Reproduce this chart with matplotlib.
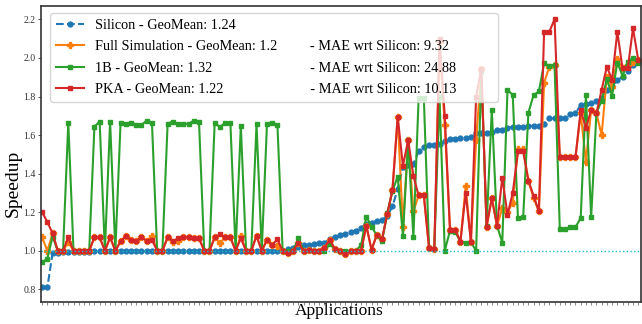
import numpy as np
import matplotlib.pyplot as plt

# Speedup per application (sorted by silicon speedup)
silicon = [0.81, 0.81, 0.99, 0.99, 0.995, 0.995, 0.995, 0.995, 0.995, 0.995,
           1.0, 1.0, 1.0, 1.0, 1.0, 1.0, 1.0, 1.0, 1.0, 1.0,
           1.0, 1.0, 1.0, 1.0, 1.0, 1.0, 1.0, 1.0, 1.0, 1.0,
           1.0, 1.0, 1.0, 1.0, 1.0, 1.0, 1.0, 1.0, 1.0, 1.0,
           1.0, 1.0, 1.0, 1.0, 1.0, 1.0, 1.0, 1.009, 1.014, 1.022,
           1.028, 1.031, 1.035, 1.04, 1.043, 1.06, 1.074, 1.083, 1.088, 1.10,
           1.105, 1.12, 1.14, 1.145, 1.155, 1.16, 1.18, 1.23, 1.32, 1.437,
           1.445, 1.45, 1.515, 1.54, 1.55, 1.55, 1.553, 1.567, 1.58, 1.58,
           1.584, 1.584, 1.59, 1.61, 1.61, 1.61, 1.618, 1.627, 1.627, 1.636,
           1.644, 1.644, 1.644, 1.648, 1.648, 1.648, 1.66, 1.687, 1.687, 1.687,
           1.687, 1.71, 1.713, 1.756, 1.76, 1.765, 1.777, 1.79, 1.834, 1.855,
           1.883, 1.903, 1.93, 1.964, 1.98]

full_sim = [1.07, 1.0, 1.09, 1.0, 1.0, 1.045, 1.0, 1.0, 1.0, 1.0,
            1.07, 1.07, 1.0, 1.07, 1.0, 1.05, 1.075, 1.057, 1.05, 1.07,
            1.052, 1.078, 1.0, 1.0, 1.07, 1.048, 1.05, 1.07, 1.07, 1.069,
            1.065, 1.0, 1.0, 1.07, 1.04, 1.07, 1.07, 1.0, 1.078, 1.0,
            1.0, 1.078, 1.0, 1.057, 1.031, 1.026, 1.0, 0.99, 1.0, 1.043,
            1.0, 1.005, 1.0, 1.0, 1.017, 1.057, 1.009, 1.0, 0.984, 1.0,
            1.0, 1.0, 1.13, 1.005, 1.083, 1.06, 1.19, 1.316, 1.696, 1.126,
            1.575, 1.204, 1.287, 1.287, 1.014, 1.009, 2.08, 1.65, 1.109, 1.109,
            1.048, 1.337, 1.048, 1.575, 1.94, 1.126, 1.273, 1.13, 1.22, 1.20,
            1.25, 1.527, 1.53, 1.363, 1.273, 1.204, 1.87, 1.955, 1.964, 1.489,
            1.489, 1.489, 1.484, 1.713, 1.463, 1.73, 1.713, 1.60, 1.903, 1.85,
            1.993, 1.946, 1.964, 1.98, 1.99]

one_b = [0.94, 0.96, 1.074, 1.0, 1.0, 1.665, 1.0, 1.0, 1.0, 1.0,
         1.644, 1.67, 1.0, 1.67, 1.0, 1.665, 1.66, 1.665, 1.653, 1.653,
         1.675, 1.665, 1.0, 1.0, 1.66, 1.67, 1.658, 1.658, 1.658, 1.675,
         1.67, 1.0, 1.0, 1.665, 1.641, 1.665, 1.665, 1.0, 1.647, 1.0,
         1.0, 1.658, 1.0, 1.658, 1.665, 1.653, 1.0, 1.0, 1.0, 1.066,
         1.0, 1.005, 1.0, 1.0, 0.998, 1.036, 1.009, 1.0, 0.998, 1.0,
         1.0, 1.03, 1.178, 1.126, 1.08, 1.05, 1.195, 1.31, 1.385, 1.078,
         1.575, 1.07, 1.79, 1.79, 1.014, 1.009, 1.80, 1.0, 1.105, 1.10,
         1.045, 1.043, 1.045, 1.0, 1.93, 1.13, 1.73, 1.13, 1.043, 1.834,
         1.808, 1.17, 1.174, 1.717, 1.808, 1.826, 1.972, 1.958, 1.964, 1.114,
         1.112, 1.123, 1.123, 1.17, 1.808, 1.173, 1.713, 1.779, 1.89, 1.805,
         1.976, 1.907, 1.98, 2.0, 1.972]

pka = [1.20, 1.15, 1.09, 1.0, 1.0, 1.07, 1.0, 1.0, 1.0, 1.0,
       1.07, 1.07, 1.0, 1.07, 1.0, 1.05, 1.075, 1.057, 1.05, 1.07,
       1.052, 1.057, 1.0, 1.0, 1.07, 1.05, 1.065, 1.07, 1.07, 1.069,
       1.065, 1.0, 1.0, 1.07, 1.086, 1.07, 1.07, 1.0, 1.065, 1.0,
       1.0, 1.078, 1.0, 1.057, 1.031, 1.06, 1.0, 0.99, 1.0, 1.043,
       1.0, 1.005, 1.0, 1.0, 1.017, 1.057, 1.009, 1.0, 0.984, 1.0,
       1.0, 1.0, 1.13, 1.005, 1.083, 1.06, 1.19, 1.316, 1.696, 1.44,
       1.575, 1.389, 1.287, 1.287, 1.014, 1.009, 2.10, 1.70, 1.109, 1.109,
       1.048, 1.30, 1.048, 1.80, 1.945, 1.126, 1.273, 1.13, 1.38, 1.187,
       1.30, 1.515, 1.515, 1.363, 1.285, 1.204, 2.136, 2.136, 2.2, 1.489,
       1.489, 1.489, 1.484, 1.73, 1.636, 1.73, 1.713, 1.834, 1.955, 1.886,
       2.136, 1.946, 1.946, 2.154, 1.99]

labels = ["Silicon - GeoMean: 1.24",
          "Full Simulation - GeoMean: 1.2" + " " * 9 + "- MAE wrt Silicon: 9.32",
          "1B - GeoMean: 1.32" + " " * 27 + "- MAE wrt Silicon: 24.88" + " " * 10,
          "PKA - GeoMean: 1.22" + " " * 24 + "- MAE wrt Silicon: 10.13"]

plt.rcParams['font.family'] = ['Liberation Serif', 'DejaVu Serif']

x = np.arange(len(silicon))

fig = plt.figure(figsize=(6.42, 3.24), dpi=100)
ax = fig.add_axes([0.064, 0.068, 0.935, 0.914])

ax.plot(x, silicon, '--o', color='tab:blue', markersize=3.5, linewidth=1.5, label=labels[0])
ax.plot(x, full_sim, '-P', color='tab:orange', markersize=4, linewidth=1.5, label=labels[1])
ax.plot(x, one_b, '-s', color='tab:green', markersize=3.5, linewidth=1.5, label=labels[2])
ax.plot(x, pka, '-s', color='tab:red', markersize=3.5, linewidth=1.5, label=labels[3])
ax.axhline(1.0, color='tab:cyan', linestyle=':', linewidth=1)

ax.set_xlim(-0.2, len(x) - 1 + 0.6)
ax.set_ylim(0.735, 2.27)
ax.set_yticks([0.8, 1.0, 1.2, 1.4, 1.6, 1.8, 2.0, 2.2])
ax.set_xticks(x)
ax.set_xticklabels([])
ax.tick_params(axis='x', length=1.8, width=0.4, colors='#333333')
ax.tick_params(axis='y', length=2, width=0.6, colors='#333333', labelsize=7, pad=2)
for s in ax.spines.values():
    s.set_color('#333333')
    s.set_linewidth(1.2)

ax.set_xlabel("Applications", fontsize=12.5)
ax.xaxis.set_label_coords(0.497, -0.005)
ax.set_ylabel("Speedup", fontsize=14)
ax.yaxis.set_label_coords(-0.033, 0.40)
ax.legend(loc='upper left', fontsize=10.3, bbox_to_anchor=(0.015, 0.976), borderaxespad=0,
          borderpad=0.4, handlelength=1.95, handletextpad=0.77, labelspacing=0.6,
          framealpha=0.8, edgecolor='#cccccc')

plt.savefig("out.png", dpi=100)
